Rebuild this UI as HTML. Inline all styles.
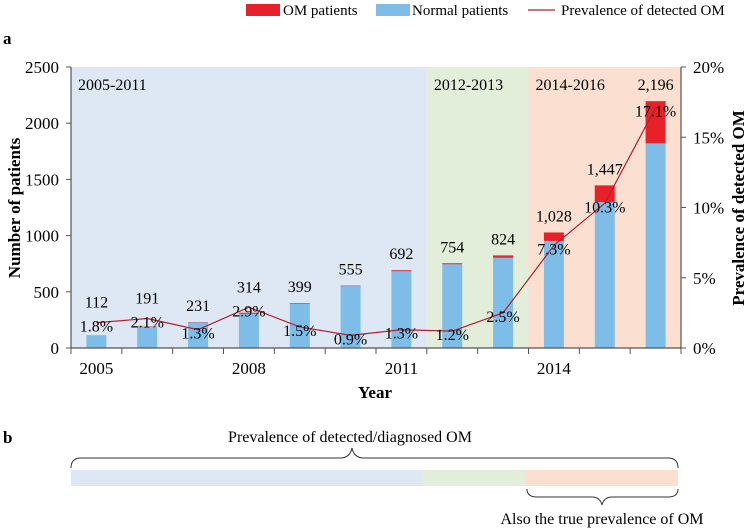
<!DOCTYPE html>
<html><head><meta charset="utf-8"><style>
html,body{margin:0;padding:0;background:#fff;}
svg{display:block;font-family:"Liberation Serif",serif;}
</style></head><body>
<svg id="c" width="750" height="530" viewBox="0 0 750 530" xmlns="http://www.w3.org/2000/svg">
<g>
 <rect x="246" y="4" width="34" height="12" fill="#e8202a"/>
 <text x="283" y="15" font-size="15">OM patients</text>
 <rect x="376" y="4" width="34" height="12" fill="#7dbde8"/>
 <text x="412" y="15" font-size="15">Normal patients</text>
 <line x1="528" y1="10" x2="555" y2="10" stroke="#b22030" stroke-width="1.2"/>
 <text x="561" y="15" font-size="15">Prevalence of detected OM</text>
</g>
<text x="3" y="44" font-size="17" font-weight="bold">a</text>
<g id="plot"></g>
<text x="3" y="443" font-size="17" font-weight="bold">b</text>
<g>
 <text x="350" y="442" font-size="16" text-anchor="middle">Prevalence of detected/diagnosed OM</text>
 <path d="M71,468 Q71,458 81,458 L340,458 Q350,458 352,448 Q354,458 364,458 L668,458 Q678,458 678,468" fill="none" stroke="#333" stroke-width="1"/>
 <rect x="71" y="470" width="352" height="16" fill="#dde8f4"/>
 <rect x="423" y="470" width="103" height="16" fill="#e2eed9"/>
 <rect x="526" y="470" width="152" height="16" fill="#fbe0d2"/>
 <path d="M527,489 Q527,497 537,497 L592,497 Q600,497 602,505 Q604,497 612,497 L668,497 Q678,497 678,489" fill="none" stroke="#333" stroke-width="1"/>
 <text x="602" y="524" font-size="16" text-anchor="middle">Also the true prevalence of OM</text>
</g>
</svg>
<script>
const years=["2005","2006","2007","2008","2009","2010","2011","2012","2013","2014","2015","2016"];
const totals=[112,191,231,314,399,555,692,754,824,1028,1447,2196];
const totalLabels=["112","191","231","314","399","555","692","754","824","1,028","1,447","2,196"];
const prevalence=[1.8,2.1,1.3,2.9,1.5,0.9,1.3,1.2,2.5,7.3,10.3,17.1];
const leftTicks=[0,500,1000,1500,2000,2500];
const rightTicks=[0,5,10,15,20];
const xTickYears=["2005","2008","2011","2014"];
const periods=[{label:"2005-2011",from:0,to:7,color:"#dde8f4"},{label:"2012-2013",from:7,to:9,color:"#e2eed9"},{label:"2014-2016",from:9,to:12,color:"#fbe0d2"}];

const NS="http://www.w3.org/2000/svg";
const g=document.getElementById('plot');
const L=71,R=681,T=67,B=348;
const slot=(R-L)/years.length;
const xC=i=>L+slot*(i+0.5);
const yL=v=>B-(v/2500)*(B-T);
const yR=p=>B-(p/20)*(B-T);
function el(tag,attrs,text){const e=document.createElementNS(NS,tag);for(const k in attrs)e.setAttribute(k,attrs[k]);if(text!==undefined)e.textContent=text;g.appendChild(e);return e;}

periods.forEach(p=>{
 const r=el('rect',{x:L+p.from*slot,y:T,width:(p.to-p.from)*slot,height:B-T,fill:p.color});
 
 
 const t=el('text',{x:L+p.from*slot+7,y:T+23,'font-size':16},p.label);
 
 
});
const bw=20;
years.forEach((yr,i)=>{
 const om=totals[i]*prevalence[i]/100, normal=totals[i]-om;
 const b=el('rect',{x:xC(i)-bw/2,y:yL(normal),width:bw,height:B-yL(normal),fill:'#7dbde8'});
 
 
 const r=el('rect',{x:xC(i)-bw/2,y:yL(totals[i]),width:bw,height:yL(normal)-yL(totals[i]),fill:'#e8202a'});
 
 
});
let a=el('line',{x1:L,y1:T,x2:L,y2:B,stroke:'#555','stroke-width':1.2});


a=el('line',{x1:R,y1:T,x2:R,y2:B,stroke:'#555','stroke-width':1.2});


a=el('line',{x1:L,y1:B,x2:R,y2:B,stroke:'#555','stroke-width':1.2});


leftTicks.forEach(v=>{
 const tk=el('line',{x1:L-5,y1:yL(v),x2:L,y2:yL(v),stroke:'#555'});
 
 
 const t=el('text',{x:L-12,y:yL(v)+6,'font-size':17,'text-anchor':'end'},String(v));
 
 
});
rightTicks.forEach(v=>{
 const tk=el('line',{x1:R,y1:yR(v),x2:R+5,y2:yR(v),stroke:'#555'});
 
 
 const t=el('text',{x:R+12,y:yR(v)+6,'font-size':17},v+'%');
 
 
});
for(let i=0;i<=years.length;i++){
 const tk=el('line',{x1:L+i*slot,y1:B,x2:L+i*slot,y2:B+6,stroke:'#555'});
 
 
}
xTickYears.forEach(yr=>{
 const i=years.indexOf(yr);
 const t=el('text',{x:xC(i),y:374,'font-size':17,'text-anchor':'middle'},yr);
 
 
});
const pts=prevalence.map((p,i)=>xC(i)+','+yR(p)).join(' ');
const ln=el('polyline',{points:pts,fill:'none',stroke:'#b22030','stroke-width':1.2});


years.forEach((yr,i)=>{
 const pctC=yR(prevalence[i])+3;
 const totC=Math.min(yL(totals[i])-17,pctC-24);
 const t=el('text',{x:xC(i),y:totC+6,'font-size':16,'text-anchor':'middle'},totalLabels[i]);
 
 
 const p=el('text',{x:xC(i),y:pctC+6,'font-size':16,'text-anchor':'middle'},prevalence[i].toFixed(1)+'%');
 
 
});
let tt=el('text',{x:375,y:398,'font-size':17,'font-weight':'bold','text-anchor':'middle'},'Year');


tt=el('text',{x:0,y:0,'font-size':17,'font-weight':'bold','text-anchor':'middle',transform:'translate(20,208) rotate(-90)'},'Number of patients');


tt=el('text',{x:0,y:0,'font-size':17,'font-weight':'bold','text-anchor':'middle',transform:'translate(744,208) rotate(-90)'},'Prevalence of detected OM');


</script>
</body></html>
